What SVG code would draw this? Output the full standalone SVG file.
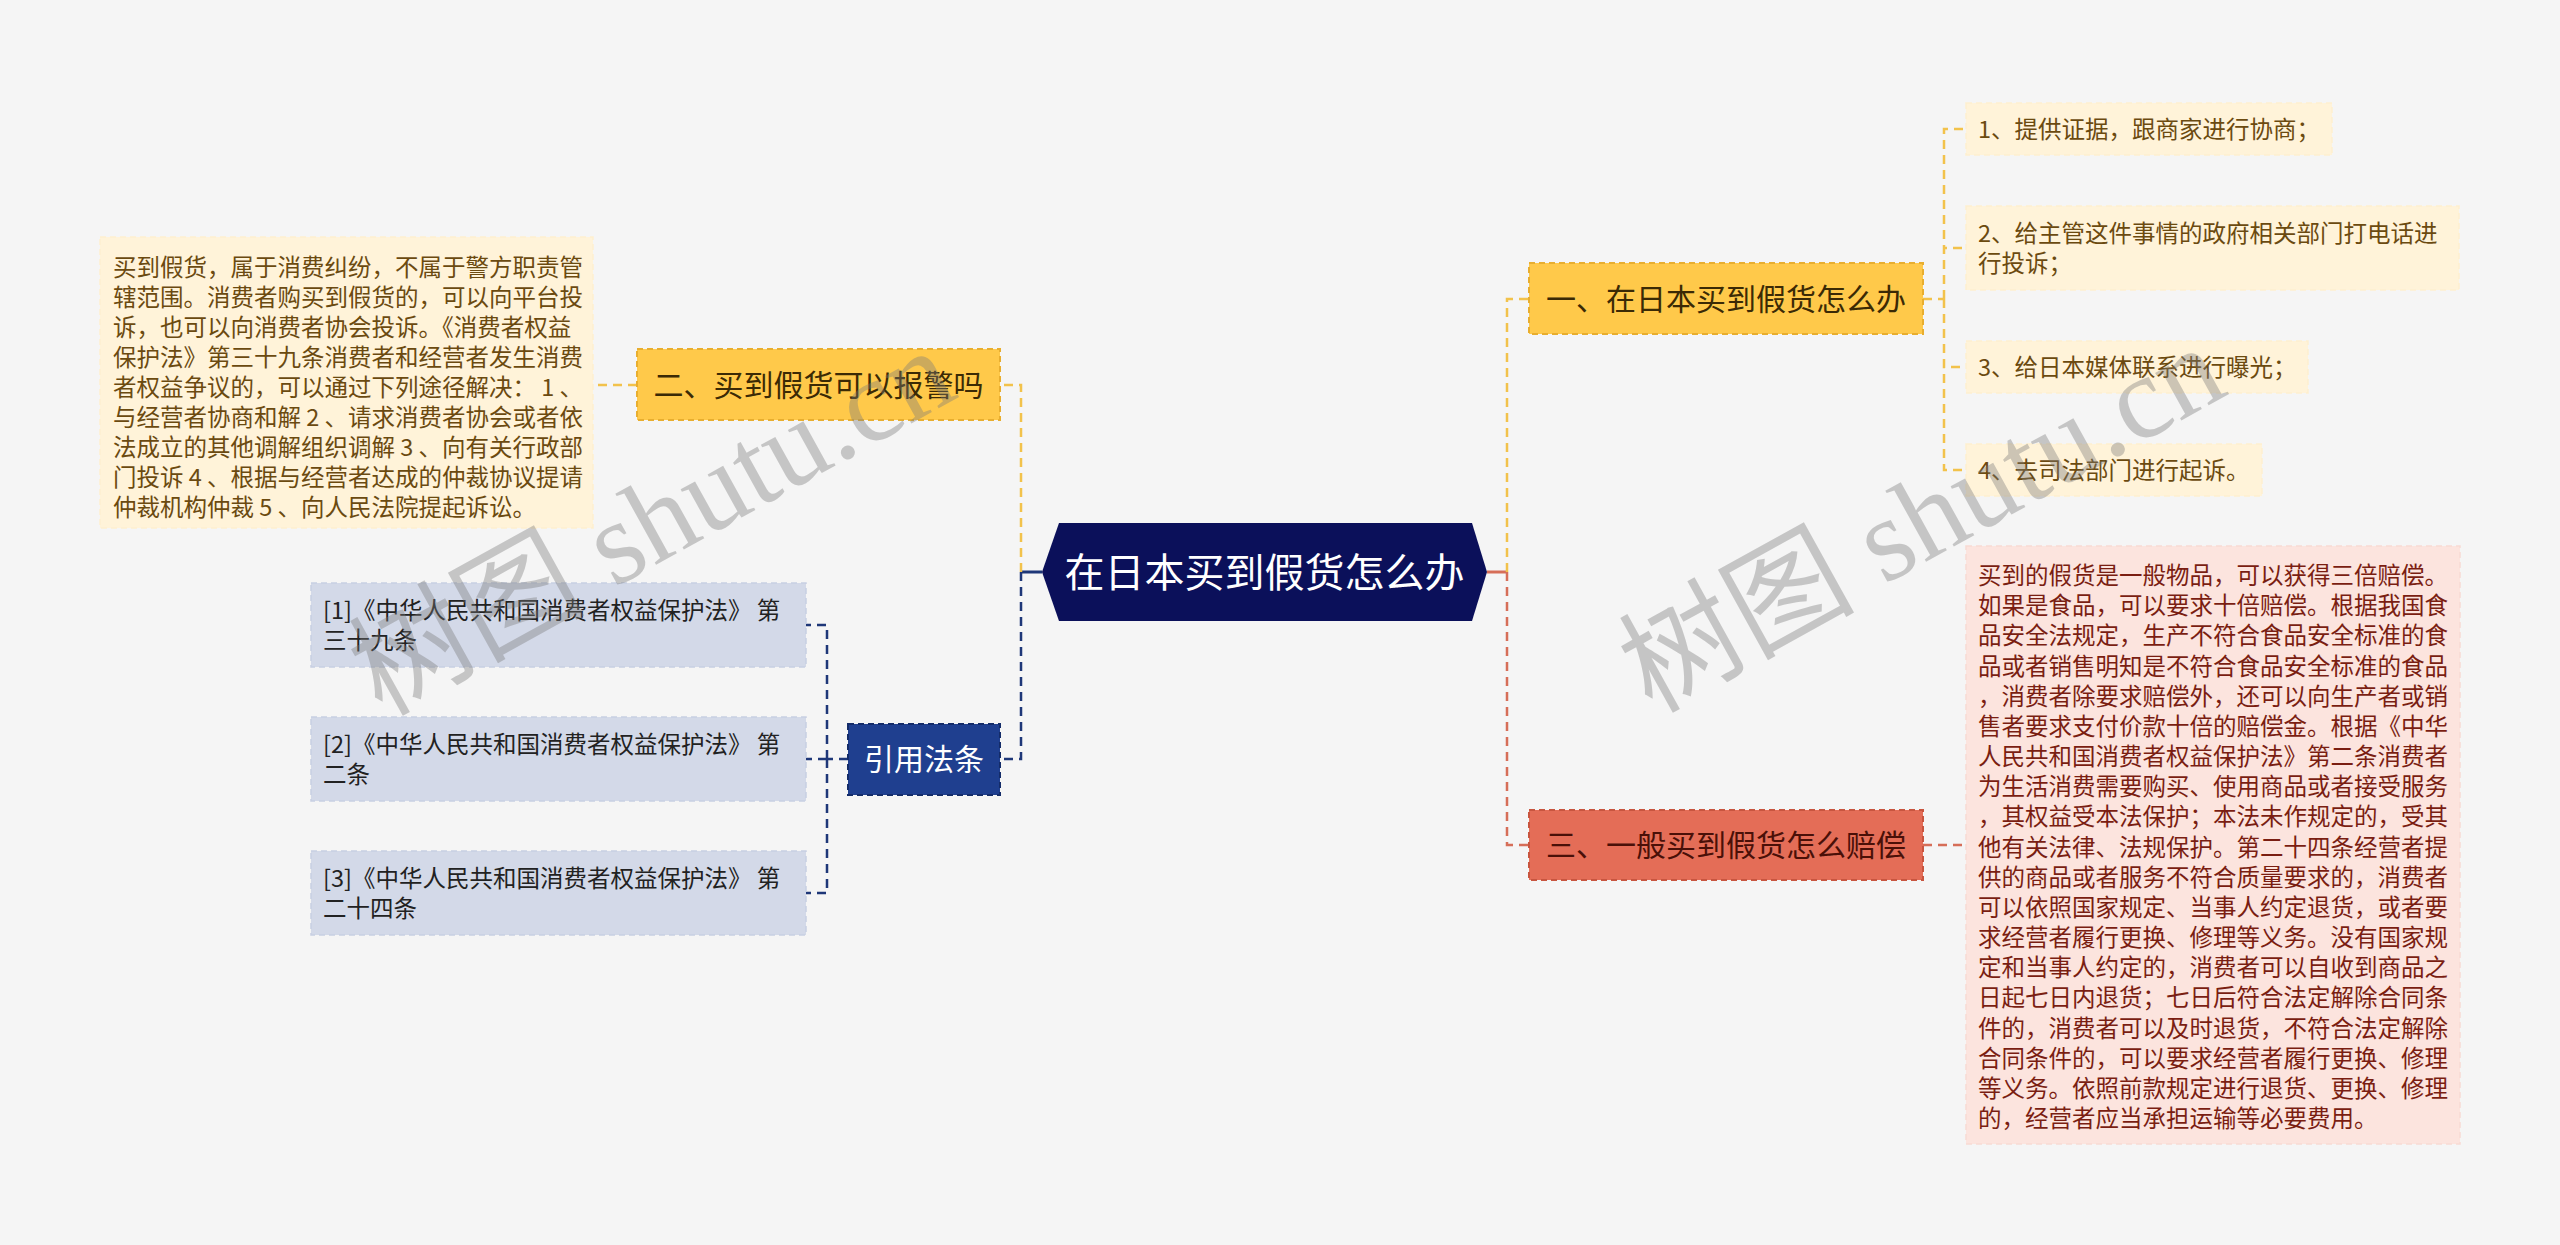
<svg xmlns="http://www.w3.org/2000/svg" width="2560" height="1245" viewBox="0 0 2560 1245">
<style>
text{font-family:'Noto Sans CJK SC','Noto Sans',sans-serif}
.yl{fill:#FFC94A;stroke:#E8AE2F;stroke-width:2;stroke-dasharray:6 4}
.rd{fill:#E46D57;stroke:#C8553F;stroke-width:2;stroke-dasharray:6 4}
.cream{fill:#FFF3D9;stroke:#FEEFCF;stroke-width:1.5;stroke-dasharray:6 4}
.pink{fill:#FCE4DE;stroke:#F8DAD3;stroke-width:1.5;stroke-dasharray:6 4}
.ref{fill:#D3D9E8;stroke:#C8CFE2;stroke-width:1.5;stroke-dasharray:6 4}
.cite{fill:#1F3F8F;stroke:#142C69;stroke-width:2;stroke-dasharray:6 4}
.t30{font-size:30px}
.t23{font-size:23.5px}
.cy{stroke:#F2C24B;stroke-width:2.5;fill:none;stroke-dasharray:9 6}
.cn{stroke:#1E3778;stroke-width:2.5;fill:none;stroke-dasharray:9 6}
.cr{stroke:#D66E58;stroke-width:2.5;fill:none;stroke-dasharray:9 6}
.wm{font-family:'Liberation Serif','Noto Sans CJK SC',serif;font-size:118px;fill:#7a7a7a;opacity:0.38}
</style>
<rect width="2560" height="1245" fill="#F5F5F5"/>
<g id="connectors">
<path d="M1021,572 H1042" stroke="#1E3778" stroke-width="3" fill="none"/>
<path d="M1487,572 H1507" stroke="#D66E58" stroke-width="3" fill="none"/>
<path class="cy" d="M1021,572 V385 H1000"/>
<path class="cn" d="M1021,572 V759 H1000"/>
<path class="cy" d="M1507,572 V299 H1529"/>
<path class="cr" d="M1507,572 V845 H1529"/>
<path class="cy" d="M637,385 H593"/>
<path class="cn" d="M848,759 H827 M827,759 V625 H806 M827,759 V893 H806 M827,759 H806"/>
<path class="cy" d="M1923,299 H1944 M1944,299 V129 H1966 M1944,299 V248 H1966 M1944,299 V367 H1966 M1944,299 V470 H1966"/>
<path class="cr" d="M1923,845 H1966"/>
</g>
<g id="root">
<polygon points="1042,572 1059,523 1472,523 1487,572 1472,621 1059,621" fill="#0B105A"/>
<text x="1264.5" y="587" text-anchor="middle" font-size="40" fill="#FFFFFF">在日本买到假货怎么办</text>
</g>
<g id="n1">
<rect class="yl" x="1529" y="263" width="394" height="71"/>
<text class="t30" x="1726" y="310" text-anchor="middle" fill="#3B2A05">一、在日本买到假货怎么办</text>
</g>
<g id="n1-1">
<rect class="cream" x="1966" y="103" width="366" height="52"/>
<text class="t23" x="1978" y="138" fill="#6B4A10">1、提供证据，跟商家进行协商；</text>
</g>
<g id="n1-2">
<rect class="cream" x="1966" y="206" width="493" height="84"/>
<text class="t23" fill="#6B4A10"><tspan x="1978" y="242">2、给主管这件事情的政府相关部门打电话进</tspan><tspan x="1978" y="272">行投诉；</tspan></text>
</g>
<g id="n1-3">
<rect class="cream" x="1966" y="341" width="342" height="52"/>
<text class="t23" x="1978" y="376" fill="#6B4A10">3、给日本媒体联系进行曝光；</text>
</g>
<g id="n1-4">
<rect class="cream" x="1966" y="444" width="296" height="52"/>
<text class="t23" x="1978" y="479" fill="#6B4A10">4、去司法部门进行起诉。</text>
</g>
<g id="n2">
<rect class="yl" x="637" y="349" width="363" height="71"/>
<text class="t30" x="818.5" y="396" text-anchor="middle" fill="#3B2A05">二、买到假货可以报警吗</text>
</g>
<g id="n2-1">
<rect class="cream" x="100" y="237" width="493" height="291"/>
<text class="t23" fill="#6B4A10">
<tspan x="113" y="276">买到假货，属于消费纠纷，不属于警方职责管</tspan>
<tspan x="113" y="306">辖范围。消费者购买到假货的，可以向平台投</tspan>
<tspan x="113" y="336">诉，也可以向消费者协会投诉。《消费者权益</tspan>
<tspan x="113" y="366">保护法》第三十九条消费者和经营者发生消费</tspan>
<tspan x="113" y="396">者权益争议的，可以通过下列途径解决： 1 、</tspan>
<tspan x="113" y="426">与经营者协商和解 2 、请求消费者协会或者依</tspan>
<tspan x="113" y="456">法成立的其他调解组织调解 3 、向有关行政部</tspan>
<tspan x="113" y="486">门投诉 4 、根据与经营者达成的仲裁协议提请</tspan>
<tspan x="113" y="516">仲裁机构仲裁 5 、向人民法院提起诉讼。</tspan>
</text>
</g>
<g id="n3">
<rect class="rd" x="1529" y="810" width="394" height="70"/>
<text class="t30" x="1726" y="856" text-anchor="middle" fill="#4A1008">三、一般买到假货怎么赔偿</text>
</g>
<g id="n3-1">
<rect class="pink" x="1966" y="546" width="494" height="598"/>
<text class="t23" fill="#7A1E12">
<tspan x="1978" y="584">买到的假货是一般物品，可以获得三倍赔偿。</tspan>
<tspan x="1978" y="614.2">如果是食品，可以要求十倍赔偿。根据我国食</tspan>
<tspan x="1978" y="644.3">品安全法规定，生产不符合食品安全标准的食</tspan>
<tspan x="1978" y="674.5">品或者销售明知是不符合食品安全标准的食品</tspan>
<tspan x="1978" y="704.7">，消费者除要求赔偿外，还可以向生产者或销</tspan>
<tspan x="1978" y="734.9">售者要求支付价款十倍的赔偿金。根据《中华</tspan>
<tspan x="1978" y="765">人民共和国消费者权益保护法》第二条消费者</tspan>
<tspan x="1978" y="795.2">为生活消费需要购买、使用商品或者接受服务</tspan>
<tspan x="1978" y="825.4">，其权益受本法保护；本法未作规定的，受其</tspan>
<tspan x="1978" y="855.5">他有关法律、法规保护。第二十四条经营者提</tspan>
<tspan x="1978" y="885.7">供的商品或者服务不符合质量要求的，消费者</tspan>
<tspan x="1978" y="915.9">可以依照国家规定、当事人约定退货，或者要</tspan>
<tspan x="1978" y="946">求经营者履行更换、修理等义务。没有国家规</tspan>
<tspan x="1978" y="976.2">定和当事人约定的，消费者可以自收到商品之</tspan>
<tspan x="1978" y="1006.4">日起七日内退货；七日后符合法定解除合同条</tspan>
<tspan x="1978" y="1036.6">件的，消费者可以及时退货，不符合法定解除</tspan>
<tspan x="1978" y="1066.7">合同条件的，可以要求经营者履行更换、修理</tspan>
<tspan x="1978" y="1096.9">等义务。依照前款规定进行退货、更换、修理</tspan>
<tspan x="1978" y="1127.1">的，经营者应当承担运输等必要费用。</tspan>
</text>
</g>
<g id="n4">
<rect class="cite" x="848" y="724" width="152" height="71"/>
<text class="t30" x="924" y="770" text-anchor="middle" fill="#FFFFFF">引用法条</text>
</g>
<g id="n4-1">
<rect class="ref" x="311" y="583" width="495" height="84"/>
<text class="t23" fill="#222222"><tspan x="323" y="619">[1]《中华人民共和国消费者权益保护法》 第</tspan><tspan x="323" y="649">三十九条</tspan></text>
</g>
<g id="n4-2">
<rect class="ref" x="311" y="717" width="495" height="84"/>
<text class="t23" fill="#222222"><tspan x="323" y="753">[2]《中华人民共和国消费者权益保护法》 第</tspan><tspan x="323" y="783">二条</tspan></text>
</g>
<g id="n4-3">
<rect class="ref" x="311" y="851" width="495" height="84"/>
<text class="t23" fill="#222222"><tspan x="323" y="887">[3]《中华人民共和国消费者权益保护法》 第</tspan><tspan x="323" y="917">二十四条</tspan></text>
</g>
<g id="watermarks">
<text class="wm" x="652" y="522" text-anchor="middle" dominant-baseline="central" transform="rotate(-29 652 522)">树图 shutu.cn</text>
<text class="wm" x="1922" y="519" text-anchor="middle" dominant-baseline="central" transform="rotate(-29 1922 519)">树图 shutu.cn</text>
</g>
</svg>
